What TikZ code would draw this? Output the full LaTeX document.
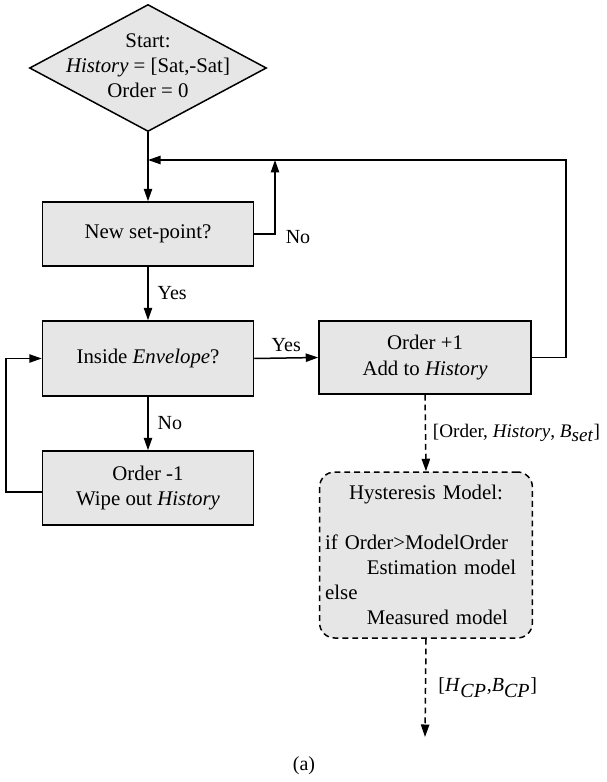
\documentclass[tikz,border=0pt]{standalone}
\usepackage{fontspec}
\setmainfont{Liberation Serif}
\usetikzlibrary{shapes.geometric,arrows.meta,positioning}

\definecolor{boxgray}{RGB}{230,230,230}

\tikzset{
	flowbox/.style={draw, line width=0.9pt, fill=boxgray, align=center, minimum width=126.6pt, font=\fontsize{12.5}{15.5}\selectfont},
	startbox/.style={draw, line width=0.9pt, fill=boxgray, diamond, inner sep=0pt, minimum width=142.2pt, minimum height=76.2pt},
	modelbox/.style={flowbox, rounded corners=9pt, dash pattern=on 3.5pt off 2.4pt, align=left, text width=121pt, minimum height=99.6pt, font=\fontsize{12.5}{15}\selectfont},
	flowarrow/.style={line width=0.9pt, -{Triangle[length=7.5pt,width=5pt]}},
	dasharrow/.style={flowarrow, dash pattern=on 3.5pt off 2.4pt},
}

\begin{document}
\begin{tikzpicture}[x=0.6pt, y=-0.6pt, every node/.style={font=\fontsize{12}{15}\selectfont}]
\useasboundingbox (0,0) rectangle (606,782);

% blocks
\node[startbox] (start) at (148,68) {};
\node[align=center, font=\fontsize{12.5}{15}\selectfont] (starttxt) at (148,66) {Start:\\\textit{History} = [Sat,-Sat]\\Order = 0};
\node[flowbox, minimum height=38.4pt] (newsp) at (148,234) {New set-point?};
\node[flowbox, minimum height=45pt] (inside) at (148,358.5) {Inside \textit{Envelope}?};
\node[flowbox, minimum height=44.4pt] (wipe) at (148,488) {Order -1\\Wipe out \textit{History}};
\node[flowbox, minimum width=127.2pt, minimum height=43.8pt] (addhist) at (425,357.5) {Order +1\\Add to \textit{History}};
\node[modelbox] (hyst) at (426,555) {\makebox[121pt]{Hysteresis Model:}\\[15pt]
	if Order{\textgreater}ModelOrder\\
	\hspace*{25pt}Estimation model\\
	else\\
	\hspace*{25pt}Measured model};

\coordinate (merge) at (148,160);
\coordinate (loopr) at (566,160);
\coordinate (noup) at (275,160);
\coordinate (output) at (425,737);

% connectors
\draw[flowarrow] (start.south) -- (newsp.north);
\draw[flowarrow] (newsp.east) -| (noup);
\node (nolbl) at (298,237) {No};
\draw[flowarrow] (newsp.south) -- node[right, xshift=2pt] {Yes} (inside.north);
\draw[flowarrow] (inside.east) -- node[above] {Yes} (addhist.west);
\draw[flowarrow] (inside.south) -- node[right, xshift=2pt] {No} (wipe.north);
\draw[flowarrow] ([yshift=-2.4pt]wipe.west) -- ++(-36,0) |- (inside.west);
\draw[flowarrow] (addhist.east) -| (loopr) -- (merge);
\draw[dasharrow] (addhist.south) -- node[right, xshift=2pt, inner sep=2pt, font=\fontsize{11.5}{14}\selectfont] {[Order, \textit{History}, \textit{B}$_{\textit{set}}$]} (hyst.north);
\draw[dasharrow] (hyst.south) -- node[right, xshift=4pt] {[\textit{H}$_{\textit{CP}}$,\textit{B}$_{\textit{CP}}$]} (output);

\node (caption) at (304,766) {(a)};
\end{tikzpicture}
\end{document}
